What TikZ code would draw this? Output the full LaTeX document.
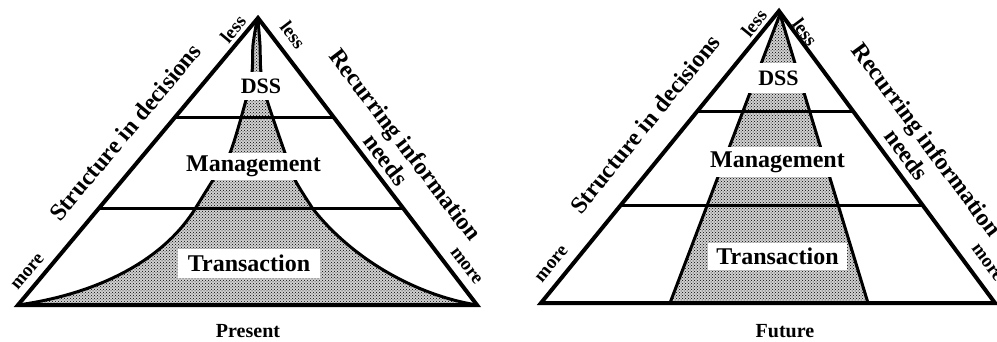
\documentclass[tikz,border=0pt]{standalone}
\usepackage{fontspec}
\setmainfont{Liberation Serif}
\usetikzlibrary{calc, patterns}

\tikzset{
  rim/.style={line width=4pt},
  band/.style={line width=3pt},
  speckle/.style={fill=black!18, postaction={pattern=crosshatch dots, pattern color=black}},
  outline/.style={line width=3pt},
  tier/.style={fill=white, inner sep=0pt, font=\fontsize{24}{26}\selectfont\bfseries},
  slant/.style={font=\fontsize{24}{25}\selectfont\bfseries, align=center, inner sep=0pt},
  endword/.style={font=\fontsize{19}{20}\selectfont\bfseries, inner sep=0pt},
  caption/.style={font=\fontsize{20}{22}\selectfont\bfseries, inner sep=0pt}
}

\begin{document}
\begin{tikzpicture}[x=1pt, y=-1pt]
\useasboundingbox (0,0) rectangle (997,342);
\clip (0,0) rectangle (997,342);

% ---- Present ----
\coordinate (apexP) at (258,18);
\coordinate (blP) at (18,305);
\coordinate (brP) at (477,305);
\filldraw[speckle, outline]
  plot[smooth, tension=0.5] coordinates {(257,20) (253,45) (252,72) (246,100)
    (230,153) (213,180) (195,209)}
  .. controls (160,265) and (90,295) .. (18,305) -- (477,305)
  .. controls (420,296) and (355,262) .. (313,209)
  -- plot[smooth, tension=0.5] coordinates {(313,209) (295,180) (285,153)
    (267,100) (261,72) (260,45) (258,20)} -- cycle;
% layer lines
\foreach \t in {0.345,0.665}
  \draw[band] ($(apexP)!\t!(blP)$) -- ($(apexP)!\t!(brP)$);
\draw[rim] (apexP) -- (blP) -- (brP) -- cycle;

\node[tier, minimum width=48pt, minimum height=28pt] (dssP) at (261,86) {\fontsize{22}{24}\selectfont DSS};
\node[tier, minimum width=142pt, minimum height=27pt] (mgmtP) at (253.5,166.5) {Management};
\node[tier, minimum width=142pt, minimum height=29pt] (transP) at (249,263.5) {Transaction};

\node[slant, rotate=50.1] (structP) at (125,132) {Structure in decisions};
\node[slant, rotate=-52.65] (recurP) at (396,152) {Recurring information\\needs};
\node[endword, rotate=50.1] (lessLP) at (233,29) {less};
\node[endword, rotate=-52.65] (lessRP) at (293,35) {less};
\node[endword, rotate=50.1] (moreLP) at (28,272) {more};
\node[endword, rotate=-52.65] (moreRP) at (466,266) {more};
\node[caption] (present) at (248,331) {Present};

% ---- Future ----
\coordinate (apexF) at (779,11);
\coordinate (blF) at (541,303);
\coordinate (brF) at (995,303);
\coordinate (topF) at (780,14);
\coordinate (footLF) at (670,303);
\coordinate (footRF) at (868,303);
\fill[speckle] (topF) -- (footLF) -- (footRF) -- cycle;
\draw[outline] (topF) -- (footLF) (topF) -- (footRF);
% layer lines
\foreach \t in {0.345,0.665}
  \draw[band] ($(apexF)!\t!(blF)$) -- ($(apexF)!\t!(brF)$);
\draw[rim] (apexF) -- (blF) -- (brF) -- cycle;

\node[tier, minimum width=64pt, minimum height=30pt] (dssF) at (778.5,78) {\fontsize{22}{24}\selectfont DSS};
\node[tier, minimum width=134pt, minimum height=30pt] (mgmtF) at (777.5,162) {Management};
\node[tier, minimum width=139pt, minimum height=27pt] (transF) at (777.5,256.5) {Transaction};

\node[slant, rotate=50.9] (structF) at (645,124) {Structure in decisions};
\node[slant, rotate=-53.5] (recurF) at (917,147) {Recurring information\\needs};
\node[endword, rotate=50.9] (lessLF) at (754,23) {less};
\node[endword, rotate=-53.5] (lessRF) at (805,32) {less};
\node[endword, rotate=50.9] (moreLF) at (552,264) {more};
\node[endword, rotate=-53.5] (moreRF) at (987,263) {more};
\node[caption] (future) at (785,331) {Future};

\end{tikzpicture}
\end{document}
